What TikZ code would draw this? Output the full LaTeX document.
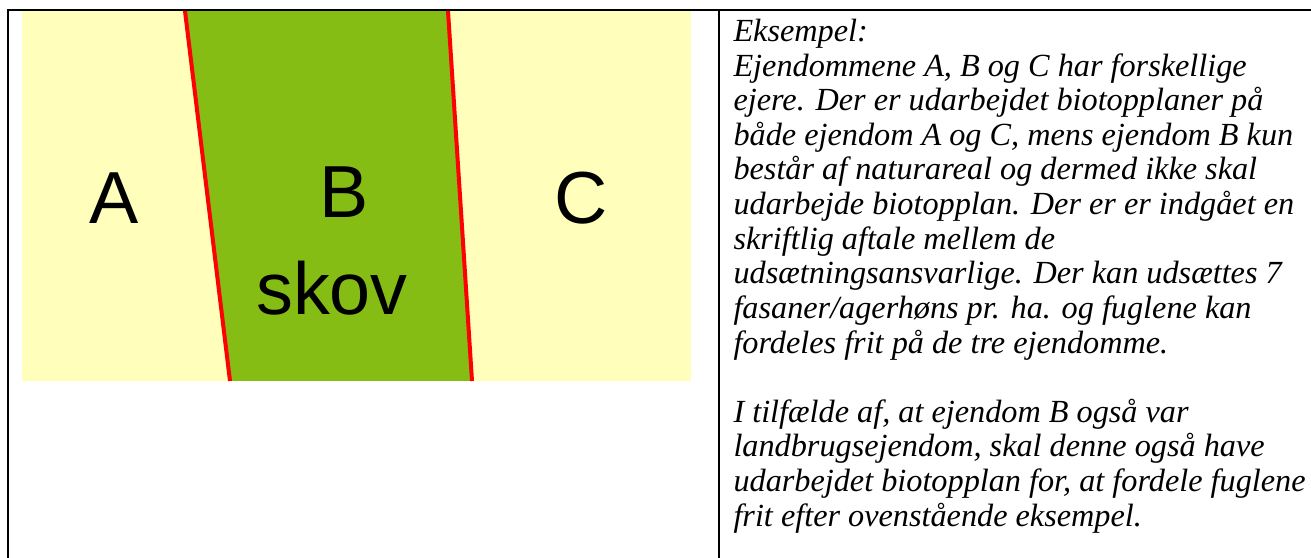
\documentclass[tikz,border=0pt]{standalone}
\usepackage{fontspec}
\setmainfont{Liberation Serif}
\newfontfamily\arialfont{Liberation Sans}
\usepackage{tikz}
\definecolor{fieldyellow}{RGB}{255,255,187}
\definecolor{forestgreen}{RGB}{134,189,20}

\begin{document}
\begin{tikzpicture}[x=0.4pt, y=-0.4pt,
    frame/.style={line width=0.75pt, black},
    border/.style={red, line width=1.6pt},
    lbl/.style={font=\arialfont\fontsize{29.5}{33}\selectfont, anchor=base, inner sep=0pt},
    note/.style={font=\fontsize{12.9}{13.85}\selectfont\itshape, align=left, anchor=north west, inner sep=0pt}
]
\useasboundingbox (0,0) rectangle (1311,558);
% map of the three properties
\fill[fieldyellow] (22,11) rectangle (691,381);
\coordinate (b1) at (185,11);
\coordinate (b2) at (448,11);
\coordinate (b3) at (472,381);
\coordinate (b4) at (230,381);
\fill[forestgreen] (b1) -- (b2) -- (b3) -- (b4) -- cycle;
\draw[border] (b1) -- (b4);
\draw[border] (b2) -- (b3);
\node[lbl] (lblA) at (114,224) {A};
\node[lbl] (lblB) at (344,218) {B};
\node[lbl] (lblskov) at (332,315) {skov};
\node[lbl] (lblC) at (581,224) {C};
% table lines
\draw[frame] (8,558) -- (8,10) -- (1311,10);
\draw[frame] (719,10) -- (719,558);
% text cell
\node[note] (txt) at (733,18.5) {Eksempel:\\
Ejendommene A, B og C har forskellige\\
ejere. Der er udarbejdet biotopplaner på\\
både ejendom A og C, mens ejendom B kun\\
består af naturareal og dermed ikke skal\\
udarbejde biotopplan. Der er er indgået en\\
skriftlig aftale mellem de\\
udsætningsansvarlige. Der kan udsættes 7\\
fasaner/agerhøns pr. ha. og fuglene kan\\
fordeles frit på de tre ejendomme.\\
\\
I tilfælde af, at ejendom B også var\\
landbrugsejendom, skal denne også have\\
udarbejdet biotopplan for, at fordele fuglene\\
frit efter ovenstående eksempel.};
\end{tikzpicture}
\end{document}
